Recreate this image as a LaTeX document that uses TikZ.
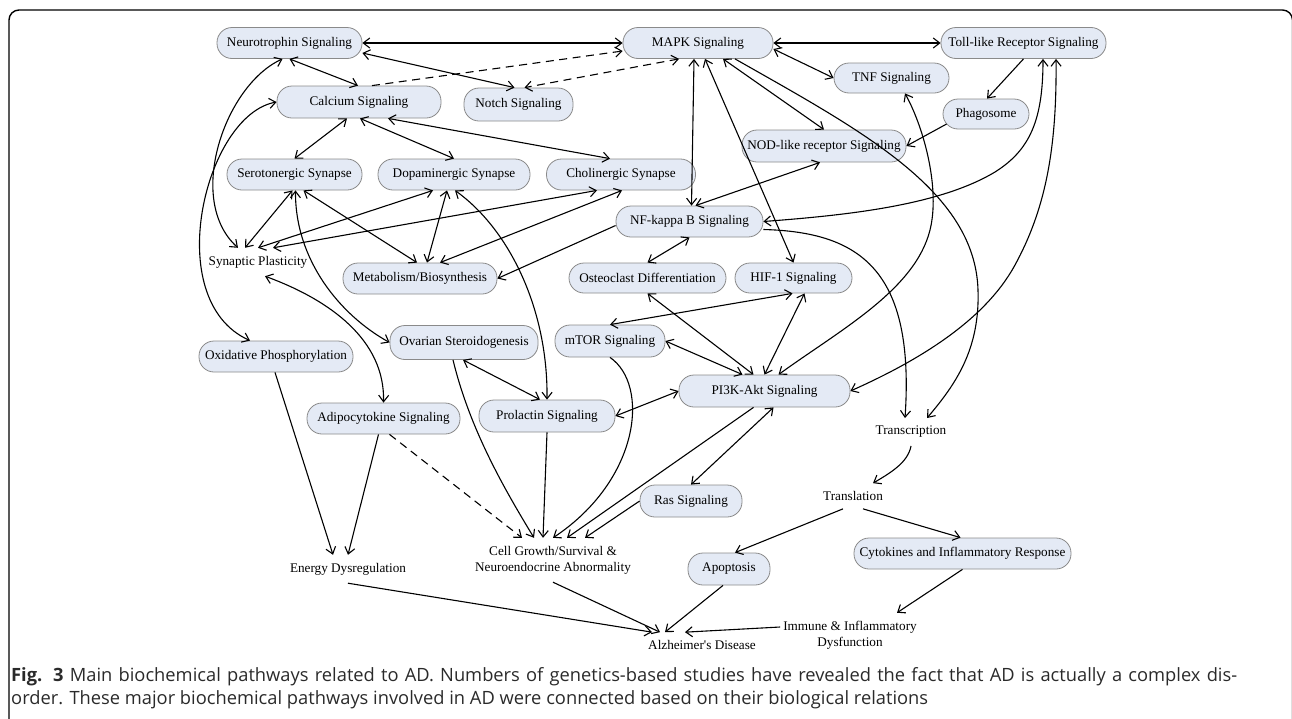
\documentclass[tikz,border=0pt]{standalone}
\usepackage{fontspec}
\setmainfont{Liberation Serif}
\newfontfamily\capfont{Open Sans}
\usetikzlibrary{arrows.meta,calc}
\definecolor{boxfill}{HTML}{E4EAF5}
\definecolor{boxdraw}{HTML}{8A8A8A}
\definecolor{captext}{HTML}{2A2A2A}
\begin{document}
\begin{tikzpicture}[x=1pt,y=-1pt,
  >={Straight Barb[length=6.5pt,width=10pt]},
  pill/.style={draw=boxdraw, line width=0.8pt, fill=boxfill, rounded corners=15pt,
    minimum height=31pt, inner sep=0pt, font=\fontsize{13.2}{15}\selectfont},
  lbl/.style={inner xsep=3pt, inner ysep=8pt, font=\fontsize{13.2}{16}\selectfont, align=center},
  ln/.style={line width=1.1pt, draw=black},
  dsh/.style={dash pattern=on 8pt off 5.5pt}]
\useasboundingbox (0,0) rectangle (1292,718);
\draw[line width=1.4pt, rounded corners=10pt] (9,722) -- (9,10) -- (1292.5,10) -- (1292.5,722);

% nodes
\node[pill, minimum width=145pt] (neuro) at (289.5,43) {Neurotrophin Signaling};
\node[pill, minimum width=150pt] (mapk) at (698,43) {MAPK Signaling};
\node[pill, minimum width=165pt] (toll) at (1023.5,43) {Toll-like Receptor Signaling};
\node[pill, minimum width=115pt, minimum height=30pt] (tnf) at (891.5,78) {TNF Signaling};
\node[pill, minimum width=86pt, minimum height=30pt] (phago) at (986,114) {Phagosome};
\node[pill, minimum width=164pt, minimum height=32pt] (nod) at (824,146) {NOD-like receptor Signaling};
\node[pill, minimum width=164pt, minimum height=32pt] (calc) at (359,102) {Calcium Signaling};
\node[pill, minimum width=109pt, minimum height=33pt] (notch) at (518.5,104.5) {Notch Signaling};
\node[pill, minimum width=135pt] (sero) at (294.5,174.5) {Serotonergic Synapse};
\node[pill, minimum width=152pt] (dopa) at (454,174.5) {Dopaminergic Synapse};
\node[pill, minimum width=149pt] (chol) at (621,174.5) {Cholinergic Synapse};
\node[lbl] (syn) at (258,262) {Synaptic Plasticity};
\node[pill, minimum width=154pt] (metab) at (420,278.5) {Metabolism/Biosynthesis};
\node[pill, minimum width=147pt] (nfkb) at (689.5,221.5) {NF-kappa B Signaling};
\node[pill, minimum width=157pt, minimum height=30pt] (osteo) at (647.5,278) {Osteoclast Differentiation};
\node[pill, minimum width=117pt, minimum height=30pt] (hif) at (793.5,278) {HIF-1 Signaling};
\node[pill, minimum width=154pt] (oxi) at (276,356.5) {Oxidative Phosphorylation};
\node[pill, minimum width=148pt, minimum height=34pt] (ovar) at (464,342.5) {Ovarian Steroidogenesis};
\node[pill, minimum width=110pt, minimum height=32pt] (mtor) at (610,341) {mTOR Signaling};
\node[pill, minimum width=171pt, minimum height=32pt] (pi3k) at (764.5,391) {PI3K-Akt Signaling};
\node[pill, minimum width=153pt] (adipo) at (383.5,418.5) {Adipocytokine Signaling};
\node[pill, minimum width=136pt, minimum height=32pt] (prol) at (547,416) {Prolactin Signaling};
\node[pill, minimum width=102pt, minimum height=32pt] (ras) at (691,501) {Ras Signaling};
\node[lbl] (trans) at (911,432) {Transcription};
\node[lbl] (transl) at (853,496) {Translation};
\node[pill, minimum width=82pt, minimum height=32pt] (apop) at (729,569) {Apoptosis};
\node[pill, minimum width=217pt] (cyto) at (962.5,553.5) {Cytokines and Inflammatory Response};
\node[lbl] (energy) at (348,569) {Energy Dysregulation};
\node[lbl] (cell) at (553,560) {Cell Growth/Survival \&\\Neuroendocrine Abnormality};
\node[lbl] (alz) at (702,645) {Alzheimer\textquotesingle s Disease};
\node[lbl] (immune) at (850,635) {Immune \& Inflammatory\\Dysfunction};

% connectors
\draw[ln,<->] (neuro.east) -- (mapk.west);
\draw[ln,<->] ([yshift=-10pt]neuro.east) -- ([xshift=-4pt]notch.north);
\draw[ln,dsh,->] ([xshift=13pt]calc.north) -- ([yshift=-8pt]mapk.west);
\draw[ln,dsh,<->] ([xshift=-19pt]mapk.south) -- ([xshift=6pt]notch.north);
\draw[ln,<->] (neuro.south) -- ([xshift=-1pt]calc.north);
\draw[ln,<->] ([xshift=-12pt]calc.south) -- (sero.north);
\draw[ln,<->] ([xshift=1pt]calc.south) -- (dopa.north);
\draw[ln,<->] ([xshift=29pt]calc.south) -- ([xshift=-11pt]chol.north);
\draw[ln,<->] ([xshift=-7pt]neuro.south) .. controls (225,85) and (185,200) .. ([xshift=-20pt]syn.north);
\draw[ln,<->] (calc.west) .. controls (205,115) and (160,300) .. ([xshift=-26pt]oxi.north);
\draw[ln,<->] ([xshift=-2pt]sero.south) -- ([xshift=-13pt]syn.north);
\draw[ln,<->] ([xshift=9pt]sero.south) -- ([xshift=-3pt]metab.north);
\draw[ln,<->] ([xshift=1pt]sero.south) .. controls (295,260) and (340,315) .. (ovar.west);
\draw[ln,<->] ([xshift=-21pt]dopa.south) -- (syn.north);
\draw[ln,<->] ([xshift=-7pt]dopa.south) -- ([xshift=7pt]metab.north);
\draw[ln,<->] ([xshift=1pt]dopa.south) .. controls (510,230) and (548,310) .. (prol.north);
\draw[ln,<->] ([xshift=-24pt]chol.south) -- ([xshift=15pt]syn.north);
\draw[ln,<->] ([xshift=1pt]chol.south) -- ([xshift=20pt]metab.north);
\draw[ln,->] ([yshift=-4pt]nfkb.west) -- (metab.east);
\draw[ln,<->] ([xshift=-4pt]mapk.south) -- ([xshift=2pt]nfkb.north);
\draw[ln,<->] ([xshift=-4pt]nod.south) -- ([xshift=6pt]nfkb.north);
\draw[ln,<->] ([xshift=7pt]mapk.south) -- (hif.north);
\draw[ln,<->] ([xshift=25pt]mapk.south) -- (nod.north);
\draw[ln,<->] ([yshift=-6pt]mapk.east) -- (tnf.west);
\draw[ln,<->] (mapk.east) -- (toll.west);
\draw[ln,->] ([xshift=37pt]mapk.south) .. controls (860,130) and (975,190) .. (978,290) .. controls (980,350) and (955,385) .. ([xshift=16pt]trans.north);
\draw[ln,->] ([yshift=-8pt]nfkb.east) .. controls (860,232) and (915,270) .. ([xshift=-6pt]trans.north);
\draw[ln,->] (toll.south) -- ([xshift=1pt]phago.north);
\draw[ln,->] ([xshift=4pt,yshift=-10pt]phago.west) -- (nod.east);
\draw[ln,<->] ([xshift=19.5pt]toll.south) .. controls (1043,120) and (1030,150) .. (995,172) .. controls (940,205) and (850,215) .. (nfkb.east);
\draw[ln,<->] ([xshift=32.5pt]toll.south) .. controls (1057,150) and (1045,210) .. (1015,265) .. controls (985,320) and (920,360) .. (pi3k.east);
\draw[ln,<->] ([xshift=13.5pt]tnf.south) .. controls (925,130) and (940,190) .. (930,230) .. controls (915,290) and (840,330) .. ([xshift=14pt]pi3k.north);
\draw[ln,<->] (nfkb.south) -- (osteo.north);
\draw[ln,<->] (osteo.south) -- ([xshift=-11pt]pi3k.north);
\draw[ln,<->] ([xshift=-1pt]hif.south) -- (mtor.north);
\draw[ln,<->] ([xshift=11pt]hif.south) -- (pi3k.north);
\draw[ln,<->] (mtor.east) -- ([xshift=-22pt]pi3k.north);
\draw[ln,<->] ([xshift=-1pt]ovar.south) -- ([xshift=-7pt]prol.north);
\draw[ln,<->] (prol.east) -- (pi3k.west);
\draw[ln,->] ([xshift=-11pt]pi3k.south) -- ([xshift=14pt]cell.north);
\draw[ln,<->] ([xshift=9pt]pi3k.south) -- (ras.north);
\draw[ln,->] (ras.west) -- ([xshift=32pt]cell.north);
\draw[ln,->] (mtor.south) .. controls (650,385) and (640,480) .. (cell.north);
\draw[ln,->] (prol.south) -- ([xshift=-10pt]cell.north);
\draw[ln,->] ([xshift=-11pt]ovar.south) .. controls (470,430) and (505,490) .. ([xshift=-19pt]cell.north);
\draw[ln,dsh,->] ([xshift=6pt]adipo.south) -- ([xshift=-31pt]cell.north);
\draw[ln,<->] ([xshift=7pt]syn.south) .. controls (330,300) and (385,340) .. (adipo.north);
\draw[ln,->] ([xshift=-1pt]oxi.south) -- ([xshift=-15pt]energy.north);
\draw[ln,->] ([xshift=-5pt]adipo.south) -- (energy.north);
\draw[ln,->] (energy.south) -- ([xshift=-50pt]alz.north);
\draw[ln,->] (cell.south) -- ([xshift=-42pt]alz.north);
\draw[ln,->] ([xshift=-6pt]apop.south) -- ([xshift=-37pt]alz.north);
\draw[ln,->] ([yshift=8pt]immune.west) -- ([xshift=-17pt]alz.north);
\draw[ln,->] (cyto.south) -- ([xshift=47pt]immune.north);
\draw[ln,->] ([xshift=-10pt]transl.south) -- ([xshift=6pt]apop.north);
\draw[ln,->] ([xshift=10pt]transl.south) -- ([xshift=-2pt]cyto.north);
\draw[ln,->] (trans.south) .. controls (908,462) and (892,472) .. ([xshift=20pt]transl.north);

% caption
\node[anchor=north west, inner sep=0pt, text width=1226pt, align=justify, text=captext,
  font=\capfont\fontsize{18.3}{23}\selectfont] (cap) at (11,667)
  {\hyphenpenalty=10000\exhyphenpenalty=10000\textbf{Fig. 3} Main biochemical pathways related to AD. Numbers of genetics-based studies have revealed the fact that AD is actually a complex dis-\linebreak order. These major biochemical pathways involved in AD were connected based on their biological relations};
\end{tikzpicture}
\end{document}
